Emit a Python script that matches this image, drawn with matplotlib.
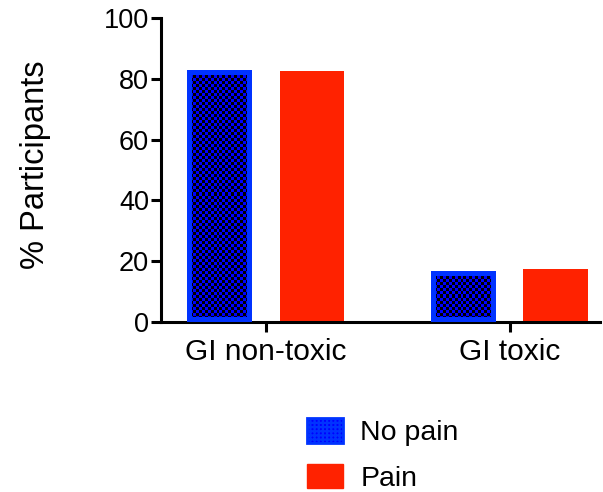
import matplotlib.pyplot as plt
import matplotlib.patches as mpatches
import numpy as np

plt.rcParams['font.family'] = ['Liberation Sans', 'DejaVu Sans']
plt.rcParams['hatch.linewidth'] = 1.6

categories = ['GI non-toxic', 'GI toxic']
no_pain = [82.9, 16.8]
pain = [82.4, 17.3]

fig = plt.figure(figsize=(6.03, 4.92), dpi=100)
ax = fig.add_axes([0.267, 0.3455, 0.728, 0.618])

x = np.arange(len(categories))
width = 0.266
offset = 0.189

ax.set_xlim(-0.43, 0.37 + 1)
ax.set_ylim(0, 100)

blue_bars = ax.bar(x - offset, no_pain, width, facecolor='#0000ff',
                   edgecolor='#0033ff', linewidth=7.2, zorder=3)
ax.bar(x + offset, pain, width, color='#ff2200', edgecolor='#ff2200',
       linewidth=0, zorder=2)

# checkerboard fill inside each "No pain" bar, border kept inside the bar
checker_cmap = plt.matplotlib.colors.ListedColormap(['#0000ff', '#000000'])
for p in blue_bars:
    p.set_clip_path(p)
    p.set_facecolor('none')
    x0, w, h = p.get_x(), p.get_width(), p.get_height()
    (px0, py0), (px1, py1) = ax.transData.transform([(x0, 0), (x0 + w, h)])
    nx = max(int(round((px1 - px0) / 3.0)), 1)
    ny = max(int(round((py1 - py0) / 3.0)), 1)
    board = np.indices((ny, nx)).sum(axis=0) % 2
    im = ax.imshow(board, cmap=checker_cmap, extent=[x0, x0 + w, 0, h],
                   origin='lower', interpolation='nearest', aspect='auto',
                   zorder=2)
    im.set_clip_path(p)

ax.set_xlim(-0.43, 0.37 + 1)
ax.set_ylim(0, 100)
ax.set_aspect('auto')
ax.set_yticks([0, 20, 40, 60, 80, 100])
ax.set_xticks(x)
ax.set_xticklabels(categories, fontsize=21.5)
ax.set_ylabel('% Participants', fontsize=23.5)
ax.yaxis.set_label_coords(-0.25, 0.516)

for s in ['top', 'right']:
    ax.spines[s].set_visible(False)
for s in ['left', 'bottom']:
    ax.spines[s].set_linewidth(2.2)
ax.tick_params(axis='both', length=7.5, width=2.2, labelsize=19.5, pad=1)
ax.tick_params(axis='x', pad=4, labelsize=21.5)

h1 = mpatches.Patch(facecolor='#0000ff', edgecolor='#0033ff', hatch='++++', linewidth=2.0)
h2 = mpatches.Patch(facecolor='#ff2200', edgecolor='#ff2200')
fig.legend([h1, h2], ['No pain', 'Pain'], loc='center left',
           bbox_to_anchor=(0.467, 0.075), frameon=False, fontsize=20.5,
           handlelength=1.26, handleheight=0.95, handletextpad=0.6,
           labelspacing=0.61)

fig.savefig('out.png', dpi=100)
